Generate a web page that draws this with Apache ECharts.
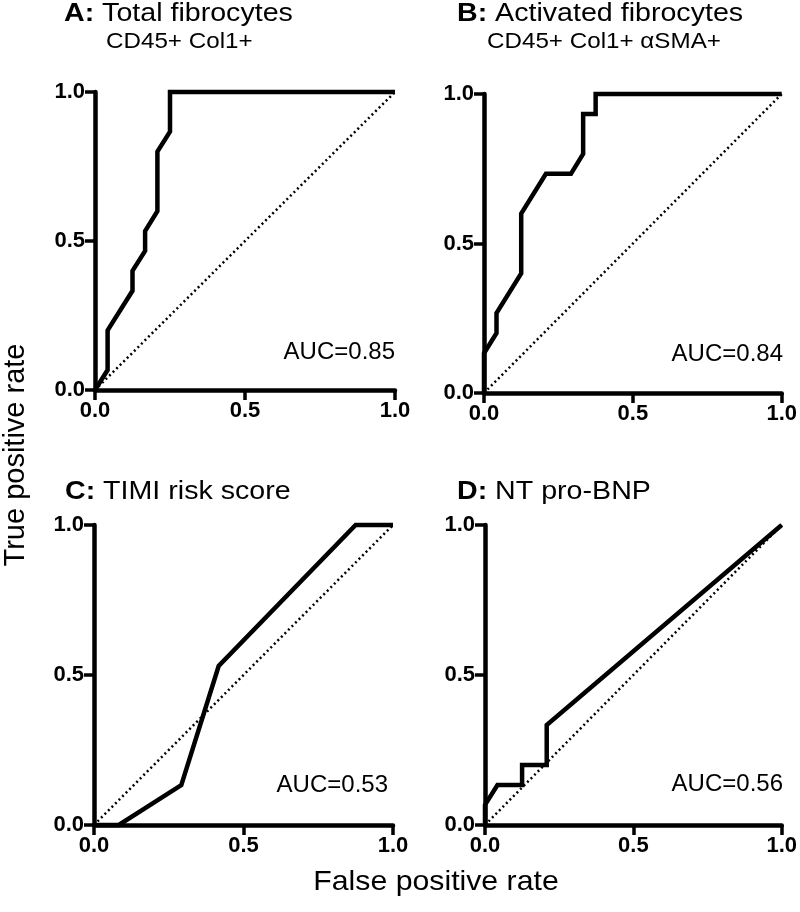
<!DOCTYPE html>
<html>
<head>
<meta charset="utf-8">
<script src="https://cdn.jsdelivr.net/npm/echarts@6/dist/echarts.min.js"></script>
<style>
html,body{margin:0;padding:0;background:#fff;}
#chart{width:800px;height:912px;}
</style>
</head>
<body>
<div id="chart"></div>
<script>
// ---- data ----
const panelLetters = ['A:', 'B:', 'C:', 'D:'];
const panelTitles = ['Total fibrocytes', 'Activated fibrocytes', 'TIMI risk score', 'NT pro-BNP'];
const panelSubtitles = ['CD45+ Col1+', 'CD45+ Col1+ \u03b1SMA+', '', ''];
const aucLabels = ['AUC=0.85', 'AUC=0.84', 'AUC=0.53', 'AUC=0.56'];
const tickValues = [0, 0.5, 1.0];

const fprA = [0, 0.042, 0.042, 0.125, 0.125, 0.167, 0.167, 0.208, 0.208, 0.25, 0.25, 1];
const tprA = [0, 0.067, 0.2, 0.333, 0.4, 0.467, 0.533, 0.6, 0.8, 0.867, 1, 1];

const fprB = [0, 0, 0.042, 0.042, 0.125, 0.125, 0.208, 0.292, 0.333, 0.333, 0.375, 0.375, 1];
const tprB = [0, 0.133, 0.2, 0.267, 0.4, 0.6, 0.733, 0.733, 0.8, 0.933, 0.933, 1, 1];

const fprC = [0, 0.083, 0.292, 0.417, 0.875, 1];
const tprC = [0, 0, 0.133, 0.53, 1, 1];

const fprD = [0, 0, 0.042, 0.125, 0.125, 0.208, 0.208, 1];
const tprD = [0, 0.067, 0.133, 0.133, 0.2, 0.2, 0.333, 1];

const diagFpr = [0, 1];
const diagTpr = [0, 1];

const xAxisTitle = 'False positive rate';
const yAxisTitle = 'True positive rate';

// ---- layout ----
const grids = [
  {left: 95, top: 92, width: 300, height: 298},
  {left: 484, top: 94, width: 299, height: 299},
  {left: 94, top: 525, width: 299, height: 300},
  {left: 485, top: 525, width: 298, height: 300}
];
const titlePos = [[64, 13.5], [457, 13.5], [65, 492], [457, 492]];
const subPos = [[106, 41.5], [487, 41.5], null, null];
const aucPos = [[395, 352], [783, 354], [388, 785], [783, 784]];

const fprs = [fprA, fprB, fprC, fprD];
const tprs = [tprA, tprB, tprC, tprD];

const FONT = "'Liberation Sans', Arial, Helvetica, sans-serif";

function zip(xs, ys) { return xs.map((x, i) => [x, ys[i]]); }

function axis(gi) {
  return {
    type: 'value', gridIndex: gi, min: 0, max: 1, interval: 0.5,
    axisLine: {show: true, onZero: false, lineStyle: {color: '#000', width: 4.5}},
    axisTick: {show: true, length: 10, lineStyle: {color: '#000', width: 3.5}},
    axisLabel: {
      color: '#000', fontWeight: 'bold', fontSize: 22, fontFamily: 'Liberation Sans', margin: 10,
      formatter: v => v.toFixed(1)
    },
    splitLine: {show: false}
  };
}

const series = [];
for (let i = 0; i < 4; i++) {
  series.push({
    type: 'line', xAxisIndex: i, yAxisIndex: i, data: zip(diagFpr, diagTpr),
    symbol: 'none', clip: false, silent: true,
    lineStyle: {color: '#000', width: 2.5, type: [2, 3]}, z: 2
  });
  series.push({
    type: 'line', xAxisIndex: i, yAxisIndex: i, data: zip(fprs[i], tprs[i]),
    symbol: 'none', clip: false, silent: true,
    lineStyle: {color: '#000', width: 4.5, join: 'miter'}, z: 3
  });
}

const graphics = [];
for (let i = 0; i < 4; i++) {
  graphics.push({
    type: 'text', x: titlePos[i][0], y: titlePos[i][1], scaleX: 1.1,
    style: {
      text: '{b|' + panelLetters[i] + '} ' + panelTitles[i],
      font: '26px ' + FONT, fill: '#000',
      textAlign: 'left', textVerticalAlign: 'middle',
      rich: {b: {fontWeight: 'bold', fontSize: 26, fontFamily: FONT, fill: '#000', color: '#000'}}
    }
  });
  if (subPos[i]) {
    graphics.push({
      type: 'text', x: subPos[i][0], y: subPos[i][1], scaleX: 1.1,
      style: {
        text: panelSubtitles[i], font: '22px ' + FONT, fill: '#000',
        textAlign: 'left', textVerticalAlign: 'middle'
      }
    });
  }
  graphics.push({
    type: 'text', x: aucPos[i][0], y: aucPos[i][1],
    style: {
      text: aucLabels[i], font: '24px ' + FONT, fill: '#000',
      textAlign: 'right', textVerticalAlign: 'middle'
    }
  });
}
graphics.push({
  type: 'text', x: 436, y: 882, scaleX: 1.08,
  style: {text: xAxisTitle, font: '28px ' + FONT, fill: '#000', textAlign: 'center', textVerticalAlign: 'middle'}
});
graphics.push({
  type: 'text', x: 16, y: 455, rotation: Math.PI / 2,
  style: {text: yAxisTitle, font: '29px ' + FONT, fill: '#000', textAlign: 'center', textVerticalAlign: 'middle'}
});

const chart = echarts.init(document.getElementById('chart'), null, {renderer: 'canvas'});
chart.setOption({
  animation: false,
  backgroundColor: '#fff',
  grid: grids.map(g => Object.assign({containLabel: false}, g)),
  xAxis: [0, 1, 2, 3].map(axis),
  yAxis: [0, 1, 2, 3].map(axis),
  series: series,
  graphic: graphics
});
</script>
</body>
</html>
